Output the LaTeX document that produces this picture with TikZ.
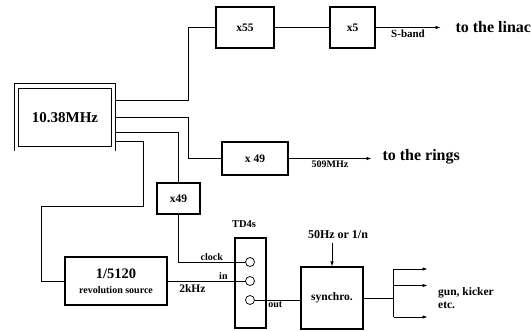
\documentclass[tikz,border=0pt]{standalone}
\usepackage{fontspec}
\setmainfont{Liberation Serif}
\usetikzlibrary{arrows.meta}

\begin{document}
\begin{tikzpicture}[x=1pt, y=-1pt, >={Latex[length=5pt,width=3.5pt]}]
%------------------------------------------------------------------------------------------------
% Block and label styles

    \tikzset{blk/.style={draw, line width=1.1pt, inner sep=0pt, align=center,
            font=\bfseries\fontsize{11.5}{13}\selectfont},
        wire/.style={line width=0.75pt},
        port/.style={draw, circle, line width=0.75pt, minimum size=9pt, inner sep=0pt},
        tiny/.style={font=\bfseries\fontsize{10}{12}\selectfont, inner sep=1.5pt},
        mid/.style={font=\bfseries\fontsize{11.5}{13}\selectfont},
        big/.style={font=\bfseries\fontsize{16}{18}\selectfont}
    }
    \useasboundingbox (0,0) rectangle (531,331);
    % oscillator
    \node [blk, double, line width=0.9pt, double distance=3.5pt, outer sep=2.65pt,
        minimum width=96.7pt, minimum height=62.7pt,
        font=\bfseries\fontsize{15}{17}\selectfont] (osc) at (65,117.5) {10.38MHz};
    % multipliers
    \node [blk, minimum width=58pt, minimum height=41pt] (x55) at (245,27.5) {x55};
    \node [blk, minimum width=45pt, minimum height=41pt] (x5) at (352.5,27.5) {x5};
    \node [blk, minimum width=66pt, minimum height=33pt] (x49r) at (255,158.5) {x 49};
    \node [blk, minimum width=43pt, minimum height=31pt] (x49c) at (178.5,198.5) {x49};
    % revolution divider
    \node [blk, minimum width=102pt, minimum height=48pt] (div) at (116,281)
        {{\fontsize{14.5}{16}\selectfont 1/5120}\\[2pt]{\fontsize{10}{12}\selectfont revolution source}};
    % TD4s with its three ports
    \node [blk, minimum width=31pt, minimum height=90pt] (td) at (250.5,283) {};
    \node [mid, font=\bfseries\fontsize{10.5}{12}\selectfont] (tdname) at (244,224) {TD4s};
    \foreach \name/\y in {clk/262, in/281, out/300} {
        \node [port] (\name) at (250,\y) {};
    }
    % synchronisation
    \node [blk, minimum width=62pt, minimum height=62pt, mid] (sync) at (332,298) {synchro.};
    \node [mid, font=\bfseries\fontsize{12}{14}\selectfont] (rate) at (338,235) {50Hz or 1/n};
%------------------------------------------------------------------------------------------------
\draw[wire] ([yshift=17.5pt]osc.east) -- ++(72,0) |- (x55.west);
\draw[wire] (x55.east) -- (x5.west);
\draw[wire, ->] (x5.east) -- ++(65,0) coordinate(linac) node[tiny, midway, below, font=\bfseries\fontsize{11}{12}\selectfont]{S-band};
\node [big, anchor=west] (linacTxt) at (452,27) {to the linac};

\draw[wire] (osc.east) -- ++(72,0) |- (x49r.west);
\draw[wire, ->] (x49r.east) -- ++(83,0) coordinate(rings) node[tiny, midway, below]{509MHz};
\node [big, anchor=west] (ringsTxt) at (379,157) {to the rings};

\draw[wire] ([yshift=-14.5pt]osc.east) -| (x49c.north);
\draw[wire] (x49c.south) |- (clk.west) node[tiny, pos=0.75, above]{clock};

\draw[wire] ([yshift=-24pt]osc.east) -- ++(27,0) -- ++(0,65) -- ++(-102,0) |- (div.west);
\draw[wire] (div.east) -- (in.west) node[tiny, pos=0.72, above]{in}
    node[mid, pos=0.32, below]{2kHz};

\draw[wire] (out.east) -- (out.east -| sync.west) node[tiny, pos=0.45, below]{out};
\draw[wire, ->] (rate.south -| sync.north) -- (sync.north);

\draw[wire] (sync.east) -- ++(30,0) coordinate(fan);
\draw[wire] (fan |- 0,269) -- (fan |- 0,317);
\foreach \y/\label in {269/gunA, 285.5/gunB, 317/gunC} {
    \draw[wire, ->] (fan |- 0,\y) -- ++(34,0) coordinate(\label);
}
\node [mid, anchor=west, align=left, inner sep=0pt] (dest) at (438,298) {gun, kicker\\etc.};

\end{tikzpicture}
\end{document}
